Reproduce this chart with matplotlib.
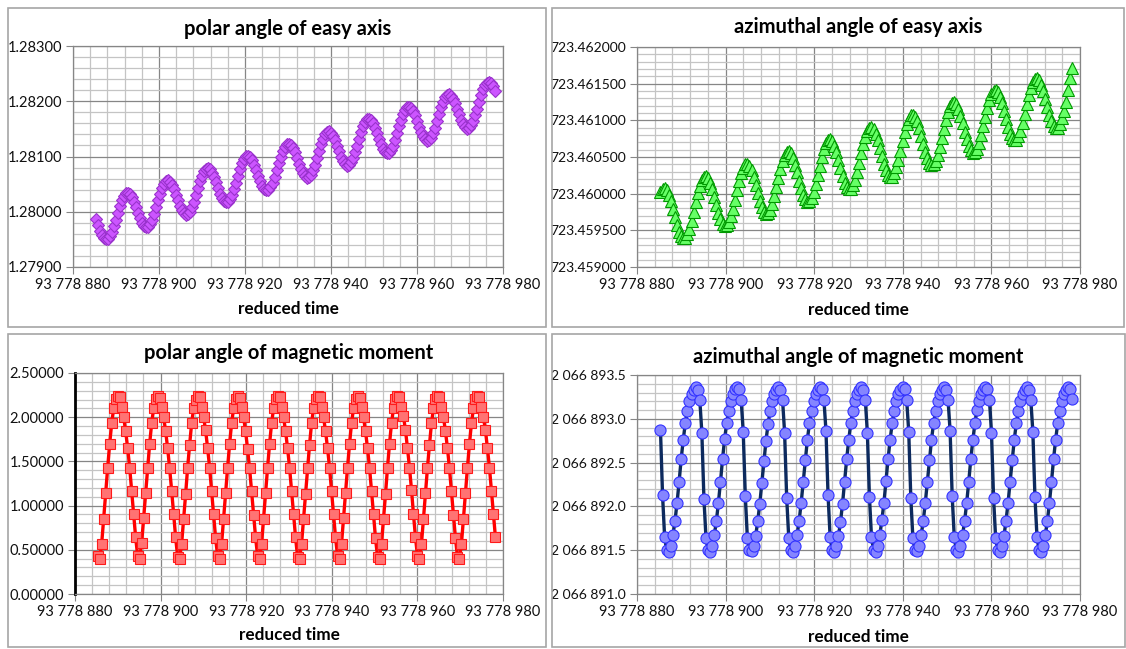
import numpy as np
import matplotlib
matplotlib.use("Agg")
import matplotlib.pyplot as plt
from matplotlib.ticker import MultipleLocator, FuncFormatter
from matplotlib.patches import Rectangle

plt.rcParams['font.family'] = ['Lato', 'DejaVu Sans']

## time axis, offsets from 93 778 880
T0 = 93778880
time_offset = [
    5.300, 5.767, 6.234, 6.701, 7.168, 7.635, 8.102, 8.569, 9.036, 9.503, 9.970, 10.437, 10.904, 11.371, 11.838, 12.305, 12.772, 13.239, 13.706, 14.173,
    14.640, 15.107, 15.574, 16.041, 16.508, 16.975, 17.442, 17.909, 18.376, 18.843, 19.310, 19.777, 20.244, 20.711, 21.178, 21.645, 22.112, 22.579, 23.046, 23.513,
    23.980, 24.447, 24.914, 25.381, 25.848, 26.315, 26.782, 27.249, 27.716, 28.183, 28.650, 29.117, 29.584, 30.051, 30.518, 30.985, 31.452, 31.919, 32.386, 32.853,
    33.320, 33.787, 34.254, 34.721, 35.188, 35.655, 36.122, 36.589, 37.056, 37.523, 37.990, 38.457, 38.924, 39.391, 39.858, 40.325, 40.792, 41.259, 41.726, 42.193,
    42.660, 43.127, 43.594, 44.061, 44.528, 44.995, 45.462, 45.929, 46.396, 46.863, 47.330, 47.797, 48.264, 48.731, 49.198, 49.665, 50.132, 50.599, 51.066, 51.533,
    52.000, 52.467, 52.934, 53.401, 53.868, 54.335, 54.802, 55.269, 55.736, 56.203, 56.670, 57.137, 57.604, 58.071, 58.538, 59.005, 59.472, 59.939, 60.406, 60.873,
    61.340, 61.807, 62.274, 62.741, 63.208, 63.675, 64.142, 64.609, 65.076, 65.543, 66.010, 66.477, 66.944, 67.411, 67.878, 68.345, 68.812, 69.279, 69.746, 70.213,
    70.680, 71.147, 71.614, 72.081, 72.548, 73.015, 73.482, 73.949, 74.416, 74.883, 75.350, 75.817, 76.284, 76.751, 77.218, 77.685, 78.152, 78.619, 79.086, 79.553,
    80.020, 80.487, 80.954, 81.421, 81.888, 82.355, 82.822, 83.289, 83.756, 84.223, 84.690, 85.157, 85.624, 86.091, 86.558, 87.025, 87.492, 87.959, 88.426, 88.893,
    89.360, 89.827, 90.294, 90.761, 91.228, 91.695, 92.162, 92.629, 93.096, 93.563, 94.030, 94.497, 94.964, 95.431, 95.898, 96.365, 96.832, 97.299, 97.766, 98.233,
]

polar_easy = [
    1.279861, 1.279758, 1.279660, 1.279579, 1.279524, 1.279499, 1.279510, 1.279557, 1.279635, 1.279738, 1.279859, 1.279984, 1.280104, 1.280207, 1.280285, 1.280332, 1.280343, 1.280319, 1.280263, 1.280182,
    1.280084, 1.279981, 1.279883, 1.279802, 1.279747, 1.279722, 1.279733, 1.279780, 1.279858, 1.279961, 1.280082, 1.280207, 1.280327, 1.280430, 1.280508, 1.280555, 1.280566, 1.280542, 1.280486, 1.280405,
    1.280307, 1.280204, 1.280106, 1.280025, 1.279970, 1.279945, 1.279956, 1.280003, 1.280081, 1.280184, 1.280305, 1.280430, 1.280550, 1.280653, 1.280731, 1.280778, 1.280789, 1.280765, 1.280709, 1.280628,
    1.280530, 1.280427, 1.280329, 1.280248, 1.280193, 1.280168, 1.280179, 1.280226, 1.280304, 1.280407, 1.280528, 1.280653, 1.280773, 1.280876, 1.280954, 1.281001, 1.281012, 1.280988, 1.280932, 1.280851,
    1.280753, 1.280650, 1.280552, 1.280471, 1.280416, 1.280391, 1.280402, 1.280449, 1.280527, 1.280630, 1.280751, 1.280876, 1.280996, 1.281099, 1.281177, 1.281224, 1.281235, 1.281211, 1.281155, 1.281074,
    1.280976, 1.280873, 1.280775, 1.280694, 1.280639, 1.280614, 1.280625, 1.280672, 1.280750, 1.280853, 1.280974, 1.281099, 1.281219, 1.281322, 1.281400, 1.281447, 1.281458, 1.281434, 1.281378, 1.281297,
    1.281199, 1.281096, 1.280998, 1.280917, 1.280862, 1.280837, 1.280848, 1.280895, 1.280973, 1.281076, 1.281197, 1.281322, 1.281442, 1.281545, 1.281623, 1.281670, 1.281681, 1.281657, 1.281601, 1.281520,
    1.281422, 1.281319, 1.281221, 1.281140, 1.281085, 1.281060, 1.281071, 1.281118, 1.281196, 1.281299, 1.281420, 1.281545, 1.281665, 1.281768, 1.281846, 1.281893, 1.281904, 1.281880, 1.281824, 1.281743,
    1.281645, 1.281542, 1.281444, 1.281363, 1.281308, 1.281283, 1.281294, 1.281341, 1.281419, 1.281522, 1.281643, 1.281768, 1.281888, 1.281991, 1.282069, 1.282116, 1.282127, 1.282103, 1.282047, 1.281966,
    1.281868, 1.281765, 1.281667, 1.281586, 1.281531, 1.281506, 1.281517, 1.281564, 1.281642, 1.281745, 1.281866, 1.281991, 1.282111, 1.282214, 1.282292, 1.282339, 1.282350, 1.282326, 1.282270, 1.282189,
]

azim_easy = [
    723.460022, 723.460067, 723.460076, 723.460047, 723.459984, 723.459896, 723.459789, 723.459677, 723.459571, 723.459482, 723.459420, 723.459391, 723.459399, 723.459445, 723.459524, 723.459629, 723.459753, 723.459881, 723.460004, 723.460110,
    723.460189, 723.460234, 723.460243, 723.460214, 723.460151, 723.460063, 723.459956, 723.459844, 723.459738, 723.459649, 723.459587, 723.459558, 723.459566, 723.459612, 723.459691, 723.459796, 723.459920, 723.460048, 723.460171, 723.460277,
    723.460356, 723.460401, 723.460410, 723.460381, 723.460318, 723.460230, 723.460123, 723.460011, 723.459905, 723.459816, 723.459754, 723.459725, 723.459733, 723.459779, 723.459858, 723.459963, 723.460087, 723.460215, 723.460338, 723.460444,
    723.460523, 723.460568, 723.460577, 723.460548, 723.460485, 723.460397, 723.460290, 723.460178, 723.460072, 723.459983, 723.459921, 723.459892, 723.459900, 723.459946, 723.460025, 723.460130, 723.460254, 723.460382, 723.460505, 723.460611,
    723.460690, 723.460735, 723.460744, 723.460715, 723.460652, 723.460564, 723.460457, 723.460345, 723.460239, 723.460150, 723.460088, 723.460059, 723.460067, 723.460113, 723.460192, 723.460297, 723.460421, 723.460549, 723.460672, 723.460778,
    723.460857, 723.460902, 723.460911, 723.460882, 723.460819, 723.460731, 723.460624, 723.460512, 723.460406, 723.460317, 723.460255, 723.460226, 723.460234, 723.460280, 723.460359, 723.460464, 723.460588, 723.460716, 723.460839, 723.460945,
    723.461024, 723.461069, 723.461078, 723.461049, 723.460986, 723.460898, 723.460791, 723.460679, 723.460573, 723.460484, 723.460422, 723.460393, 723.460401, 723.460447, 723.460526, 723.460631, 723.460755, 723.460883, 723.461006, 723.461112,
    723.461191, 723.461236, 723.461245, 723.461216, 723.461153, 723.461065, 723.460958, 723.460846, 723.460740, 723.460651, 723.460589, 723.460560, 723.460568, 723.460614, 723.460693, 723.460798, 723.460922, 723.461050, 723.461173, 723.461279,
    723.461358, 723.461403, 723.461412, 723.461383, 723.461320, 723.461232, 723.461125, 723.461013, 723.460907, 723.460818, 723.460756, 723.460727, 723.460735, 723.460781, 723.460860, 723.460965, 723.461089, 723.461217, 723.461340, 723.461446,
    723.461525, 723.461570, 723.461579, 723.461550, 723.461487, 723.461399, 723.461292, 723.461180, 723.461074, 723.460985, 723.460923, 723.460894, 723.460902, 723.460948, 723.461027, 723.461132, 723.461256, 723.461420, 723.461580, 723.461710,
]

polar_moment = [
    0.43, 0.40, 0.57, 0.85, 1.14, 1.43, 1.70, 1.93, 2.10, 2.21, 2.24, 2.23, 2.12, 2.00, 1.84, 1.65, 1.43, 1.16, 0.90, 0.64,
    0.43, 0.40, 0.58, 0.86, 1.14, 1.43, 1.70, 1.93, 2.10, 2.21, 2.24, 2.22, 2.12, 2.00, 1.84, 1.65, 1.42, 1.17, 0.90, 0.64,
    0.42, 0.40, 0.57, 0.85, 1.13, 1.43, 1.69, 1.93, 2.10, 2.20, 2.24, 2.23, 2.12, 2.00, 1.85, 1.65, 1.43, 1.16, 0.90, 0.63,
    0.43, 0.40, 0.57, 0.85, 1.14, 1.43, 1.70, 1.93, 2.10, 2.21, 2.24, 2.22, 2.12, 2.00, 1.84, 1.64, 1.42, 1.16, 0.89, 0.64,
    0.43, 0.40, 0.57, 0.85, 1.14, 1.43, 1.70, 1.93, 2.10, 2.21, 2.24, 2.23, 2.12, 2.00, 1.84, 1.65, 1.43, 1.17, 0.90, 0.64,
    0.42, 0.40, 0.57, 0.85, 1.13, 1.42, 1.69, 1.93, 2.10, 2.21, 2.24, 2.23, 2.12, 2.00, 1.84, 1.65, 1.43, 1.16, 0.90, 0.64,
    0.43, 0.40, 0.57, 0.86, 1.14, 1.43, 1.70, 1.93, 2.10, 2.21, 2.24, 2.22, 2.12, 2.00, 1.84, 1.65, 1.43, 1.17, 0.90, 0.63,
    0.42, 0.40, 0.57, 0.85, 1.13, 1.43, 1.70, 1.93, 2.10, 2.21, 2.24, 2.23, 2.12, 2.01, 1.85, 1.65, 1.43, 1.18, 0.90, 0.64,
    0.43, 0.40, 0.57, 0.85, 1.14, 1.43, 1.69, 1.93, 2.10, 2.21, 2.24, 2.23, 2.12, 2.00, 1.84, 1.65, 1.42, 1.16, 0.89, 0.63,
    0.42, 0.40, 0.57, 0.85, 1.14, 1.43, 1.70, 1.93, 2.10, 2.21, 2.24, 2.23, 2.12, 2.00, 1.85, 1.65, 1.43, 1.17, 0.90, 0.64,
]

azim_moment = [
    2066892.87, 2066892.13, 2066891.65, 2066891.50, 2066891.48, 2066891.55, 2066891.67, 2066891.83, 2066892.04, 2066892.28, 2066892.54, 2066892.76, 2066892.95, 2066893.09, 2066893.20, 2066893.28, 2066893.33, 2066893.36, 2066893.33, 2066893.22,
    2066892.84, 2066892.09, 2066891.64, 2066891.50, 2066891.48, 2066891.55, 2066891.67, 2066891.83, 2066892.04, 2066892.28, 2066892.54, 2066892.77, 2066892.95, 2066893.09, 2066893.20, 2066893.28, 2066893.34, 2066893.36, 2066893.34, 2066893.22,
    2066892.85, 2066892.12, 2066891.64, 2066891.50, 2066891.49, 2066891.55, 2066891.66, 2066891.83, 2066892.03, 2066892.27, 2066892.52, 2066892.75, 2066892.94, 2066893.09, 2066893.20, 2066893.28, 2066893.33, 2066893.36, 2066893.33, 2066893.22,
    2066892.84, 2066892.10, 2066891.64, 2066891.50, 2066891.48, 2066891.55, 2066891.67, 2066891.83, 2066892.04, 2066892.28, 2066892.53, 2066892.76, 2066892.95, 2066893.09, 2066893.20, 2066893.28, 2066893.33, 2066893.36, 2066893.34, 2066893.22,
    2066892.86, 2066892.13, 2066891.65, 2066891.50, 2066891.48, 2066891.55, 2066891.66, 2066891.82, 2066892.03, 2066892.28, 2066892.54, 2066892.76, 2066892.95, 2066893.09, 2066893.20, 2066893.28, 2066893.33, 2066893.36, 2066893.33, 2066893.22,
    2066892.84, 2066892.11, 2066891.65, 2066891.50, 2066891.48, 2066891.55, 2066891.67, 2066891.84, 2066892.04, 2066892.29, 2066892.54, 2066892.76, 2066892.95, 2066893.09, 2066893.20, 2066893.28, 2066893.33, 2066893.36, 2066893.34, 2066893.22,
    2066892.85, 2066892.10, 2066891.64, 2066891.50, 2066891.49, 2066891.55, 2066891.67, 2066891.83, 2066892.04, 2066892.28, 2066892.53, 2066892.76, 2066892.95, 2066893.09, 2066893.20, 2066893.28, 2066893.33, 2066893.36, 2066893.33, 2066893.22,
    2066892.86, 2066892.12, 2066891.65, 2066891.50, 2066891.48, 2066891.55, 2066891.67, 2066891.83, 2066892.04, 2066892.28, 2066892.54, 2066892.76, 2066892.95, 2066893.10, 2066893.20, 2066893.28, 2066893.33, 2066893.36, 2066893.34, 2066893.22,
    2066892.84, 2066892.10, 2066891.64, 2066891.50, 2066891.48, 2066891.55, 2066891.66, 2066891.83, 2066892.04, 2066892.28, 2066892.53, 2066892.76, 2066892.95, 2066893.09, 2066893.20, 2066893.28, 2066893.33, 2066893.36, 2066893.33, 2066893.22,
    2066892.85, 2066892.11, 2066891.65, 2066891.50, 2066891.48, 2066891.55, 2066891.67, 2066891.83, 2066892.04, 2066892.28, 2066892.54, 2066892.76, 2066892.95, 2066893.09, 2066893.20, 2066893.28, 2066893.33, 2066893.36, 2066893.34, 2066893.23,
]

time = T0 + np.array(time_offset)

W, H = 1126, 649
fig = plt.figure(figsize=(W / 100, H / 100), dpi=100)


def rect(l, t, r, b):
    return [l / W, 1 - b / H, (r - l) / W, (b - t) / H]


def box(l, t, r, b):
    fig.patches.append(Rectangle((l / W, 1 - b / H), (r - l) / W, (b - t) / H,
                                 transform=fig.transFigure, fill=False,
                                 edgecolor='#a6a6a6', lw=1.2))


def fmt_time(v, pos):
    return f"{int(round(v)):,}".replace(",", " ")


def setup(ax, ylim, ymaj, ymin, yfmt, title, l, r, ytitle, yxlabel, ysize=10.5):
    ax.set_xlim(T0, T0 + 100)
    ax.set_ylim(*ylim)
    ax.xaxis.set_major_locator(MultipleLocator(20))
    ax.xaxis.set_minor_locator(MultipleLocator(4))
    ax.yaxis.set_major_locator(MultipleLocator(ymaj))
    ax.yaxis.set_minor_locator(MultipleLocator(ymin))
    ax.xaxis.set_major_formatter(FuncFormatter(fmt_time))
    ax.yaxis.set_major_formatter(FuncFormatter(yfmt))
    ax.grid(which='major', color='#868686', lw=0.9)
    ax.grid(which='minor', color='#c4c4c4', lw=0.9)
    ax.set_axisbelow(True)
    for s in ax.spines.values():
        s.set_color('#868686')
        s.set_linewidth(0.9)
    ax.tick_params(which='major', direction='out', length=5, color='#868686',
                   labelsize=10.5, labelcolor='#111111', pad=3)
    ax.tick_params(axis='y', labelsize=ysize)
    ax.tick_params(which='minor', length=0)
    cx = (l + r) / 2 / W
    fig.text(cx, 1 - ytitle / H, title, ha='center', va='center',
             fontsize=14.5, fontweight='bold')
    fig.text(cx, 1 - yxlabel / H, "reduced time", ha='center', va='center',
             fontsize=12.3, fontweight='bold')


## panel borders
box(8, 8, 546, 327)
box(552, 8, 1124, 327)
box(8, 334, 546, 647)
box(552, 334, 1125, 647)

ax1 = fig.add_axes(rect(73, 46, 503, 267))
ax1.plot(time, polar_easy, ls='none', marker='D', ms=6.5, mfc='#cc55ff',
         mec='#9932cc', mew=0.8, zorder=3)
setup(ax1, (1.279, 1.283), 0.001, 0.0002, lambda v, p: f"{v:.5f}",
      "polar angle of easy axis", 73, 503, 29, 309)

ax2 = fig.add_axes(rect(637, 47, 1080, 267))
ax2.plot(time, azim_easy, ls='none', marker='^', ms=8.5, mfc='#66ff66',
         mec='#009900', mew=0.8, zorder=3)
setup(ax2, (723.459, 723.462), 0.0005, 0.0001, lambda v, p: f"{v:.6f}",
      "azimuthal angle of easy axis", 637, 1080, 27, 310, ysize=10)

ax3 = fig.add_axes(rect(75, 373, 503, 594))
ax3.plot(time, polar_moment, color='#ff0000', lw=2.4, marker='s', ms=7.5,
         mfc='#ff7373', mec='#ff1a1a', mew=0.8, zorder=3)
setup(ax3, (0, 2.5), 0.5, 0.1, lambda v, p: f"{v:.5f}",
      "polar angle of magnetic moment", 75, 503, 353, 635)
ax3.spines['left'].set_color('black')
ax3.spines['left'].set_linewidth(2)

ax4 = fig.add_axes(rect(637, 375, 1080, 594))
ax4.plot(time, azim_moment, color='#0d2a5e', lw=2.4, marker='o', ms=8,
         mfc='#8585ff', mec='#3333ff', mew=0.8, zorder=3)
setup(ax4, (2066891.0, 2066893.5), 0.5, 0.1,
      lambda v, p: f"{v:,.1f}".replace(",", " "),
      "azimuthal angle of magnetic moment", 637, 1080, 357, 637, ysize=10)

fig.savefig("out.png", dpi=100)
